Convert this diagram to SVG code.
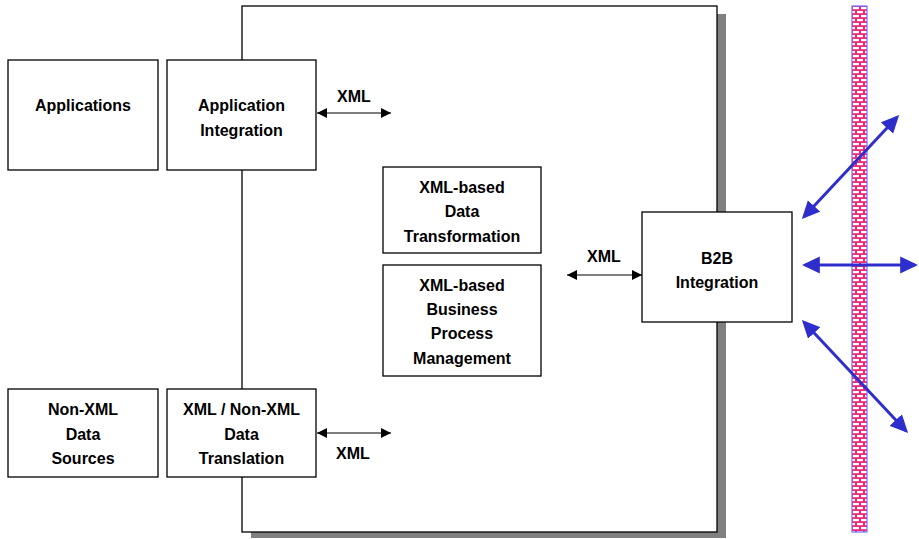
<svg xmlns="http://www.w3.org/2000/svg" width="919" height="539" viewBox="0 0 919 539">
<style>
.box{fill:#fff;stroke:#000;stroke-width:1.3}
.t{font-family:"Liberation Sans",Arial,sans-serif;font-size:16px;font-weight:bold;text-anchor:middle;fill:#000}
.bl{stroke:#000;stroke-width:1.2;fill:none;marker-start:url(#ah);marker-end:url(#ah)}
.bu{stroke:#2e2ecc;stroke-width:3;fill:none;marker-start:url(#bh);marker-end:url(#bh)}
</style>
<defs>
<marker id="ah" markerUnits="userSpaceOnUse" markerWidth="10" markerHeight="10" refX="8" refY="4" orient="auto-start-reverse" viewBox="0 0 8 8">
<path d="M0,0 L8,4 L0,8 z" fill="#000"/>
</marker>
<marker id="bh" markerUnits="userSpaceOnUse" markerWidth="18" markerHeight="18" refX="14" refY="8" orient="auto-start-reverse" viewBox="0 0 17 16">
<path d="M0,0 L17,8 L0,16 z" fill="#2e2ecc"/>
</marker>
<pattern id="brick" patternUnits="userSpaceOnUse" x="852" y="6" width="8" height="8">
<rect width="8" height="8" fill="#f0287a"/>
<rect x="1" y="1" width="6" height="2.2" fill="#fff"/>
<rect x="-3" y="5" width="6" height="2.2" fill="#fff"/>
<rect x="5" y="5" width="6" height="2.2" fill="#fff"/>
</pattern>
</defs>

<g id="platform">
<rect x="251" y="14" width="475" height="524" fill="#808080"/>
<rect x="242" y="6" width="475" height="526" class="box"/>
</g>

<g id="firewall">
<rect x="852" y="6" width="15" height="526" fill="url(#brick)" stroke="#7070ff" stroke-width="1.2"/>
</g>

<g id="applications">
<rect x="8" y="60" width="150" height="110" class="box"/>
<text class="t" x="83" y="111">Applications</text>
</g>
<g id="app-integration">
<rect x="167" y="60" width="149" height="110" class="box"/>
<text class="t" x="241.5" y="111">Application</text>
<text class="t" x="241.5" y="136">Integration</text>
</g>
<g id="non-xml-sources">
<rect x="8" y="389" width="150" height="88" class="box"/>
<text class="t" x="83" y="415">Non-XML</text>
<text class="t" x="83" y="439.5">Data</text>
<text class="t" x="83" y="464">Sources</text>
</g>
<g id="xml-translation">
<rect x="167" y="389" width="149" height="88" class="box"/>
<text class="t" x="241.5" y="415">XML / Non-XML</text>
<text class="t" x="241.5" y="439.5">Data</text>
<text class="t" x="241.5" y="464">Translation</text>
</g>
<g id="data-transformation">
<rect x="383" y="167" width="158" height="86" class="box"/>
<text class="t" x="462" y="192.5">XML-based</text>
<text class="t" x="462" y="217">Data</text>
<text class="t" x="462" y="241.5">Transformation</text>
</g>
<g id="bpm">
<rect x="383" y="265" width="158" height="111" class="box"/>
<text class="t" x="462" y="291">XML-based</text>
<text class="t" x="462" y="315">Business</text>
<text class="t" x="462" y="339">Process</text>
<text class="t" x="462" y="364">Management</text>
</g>
<g id="b2b">
<rect x="642" y="212" width="150" height="110" class="box"/>
<text class="t" x="717" y="264">B2B</text>
<text class="t" x="717" y="288">Integration</text>
</g>

<g id="connectors">
<line class="bl" x1="317" y1="113" x2="391" y2="113"/>
<text class="t" x="354" y="102">XML</text>
<line class="bl" x1="317" y1="433" x2="391" y2="433"/>
<text class="t" x="353" y="459">XML</text>
<line class="bl" x1="567" y1="275" x2="642" y2="275"/>
<text class="t" x="604" y="262">XML</text>
<line class="bu" x1="805" y1="265" x2="915" y2="265"/>
<line class="bu" x1="804" y1="216.8" x2="897" y2="117.2"/>
<line class="bu" x1="804.1" y1="322.2" x2="905.9" y2="430.8"/>
</g>
</svg>
